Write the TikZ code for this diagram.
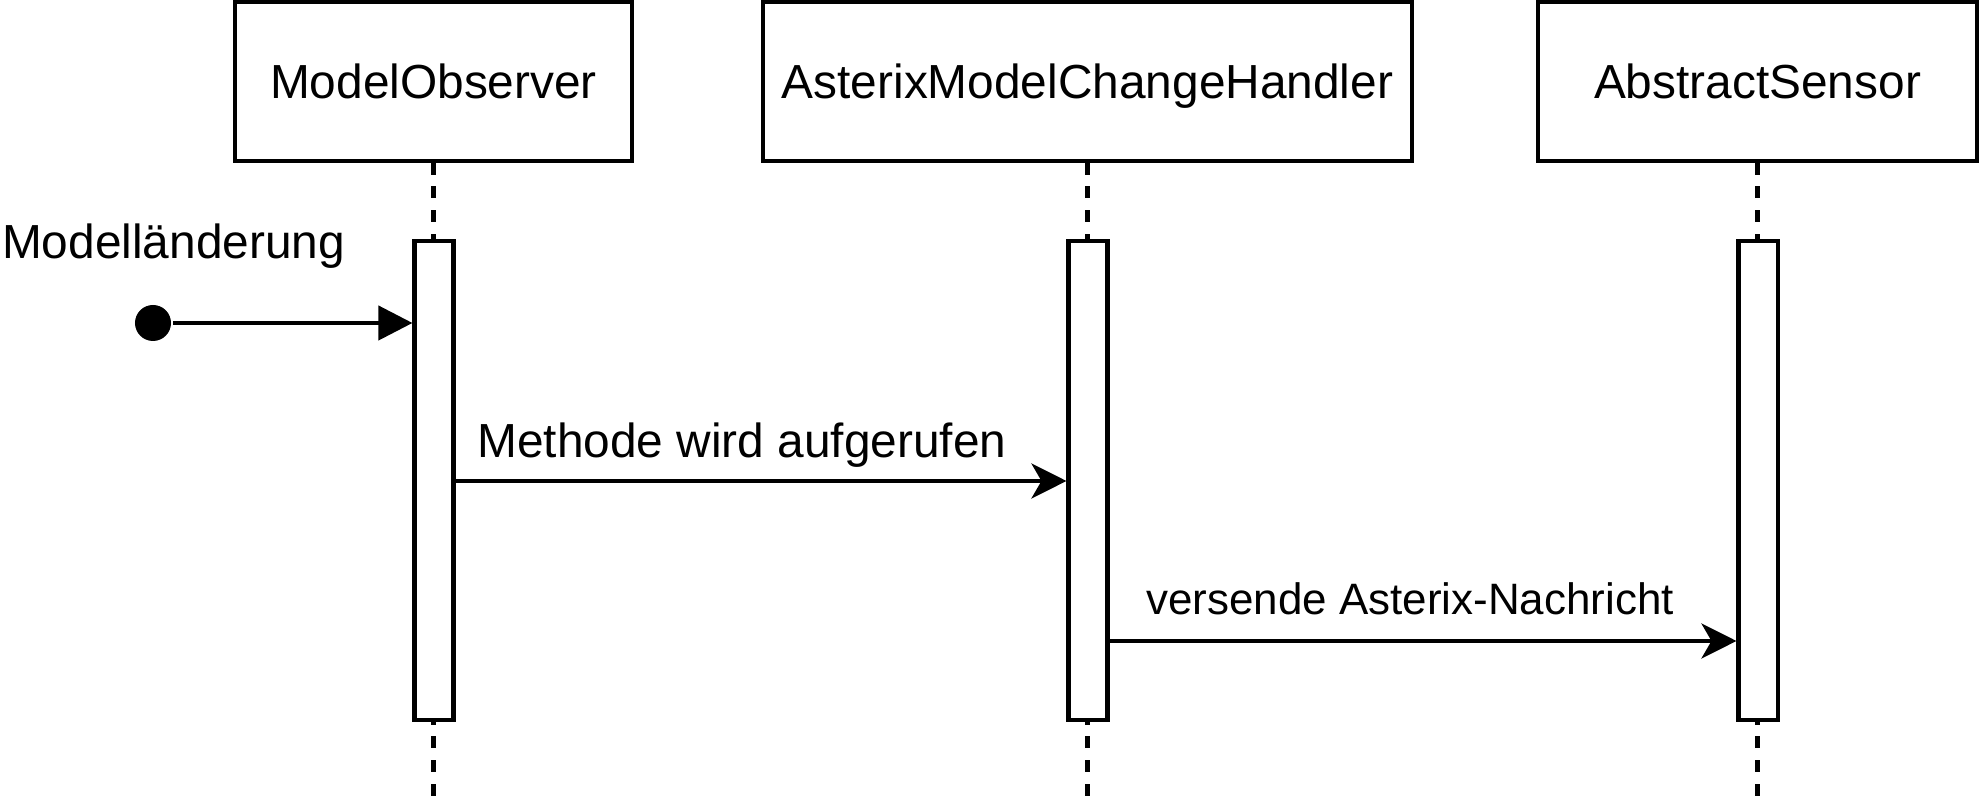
\documentclass[tikz,border=0pt]{standalone}
\usepackage{fontspec}
\setmainfont{Liberation Sans}
\usetikzlibrary{arrows.meta}

\begin{document}
\begin{tikzpicture}[x=0.01cm, y=-0.01cm, line width=1.15pt,
    head/.style={draw, minimum height=1.58cm, inner sep=0pt, text height=0.34cm, text depth=0cm, font=\fontsize{13.6}{16}\selectfont},
    bar/.style={draw, fill=white, minimum width=0.39cm, minimum height=4.78cm, inner sep=0pt},
    lifeline/.style={dash pattern=on 3.4pt off 3.4pt},
    msg/.style={-{Stealth[length=0.35cm, width=0.35cm, inset=0.1cm]}},
    lbl/.style={anchor=base, inner sep=0pt, font=\fontsize{13.6}{16}\selectfont}]
    \useasboundingbox (0,0) rectangle (1984,804);

    % Participants
    \node[head, minimum width=3.97cm] (observer) at (433.5,81.5) {ModelObserver};
    \node[head, minimum width=6.48cm] (handler) at (1087.5,81.5) {AsterixModelChangeHandler};
    \node[head, minimum width=4.38cm] (sensor) at (1757.5,81.5) {AbstractSensor};

    % Lifelines
    \coordinate (bottom) at (0,806);
    \foreach \p in {observer, handler, sensor}
        \draw[lifeline] (\p.south) -- (\p.south |- bottom);

    % Activations
    \node[bar] (act1) at (434,480.5) {};
    \node[bar] (act2) at (1088,480.5) {};
    \node[bar] (act3) at (1758,480.5) {};

    % Incoming trigger
    \node[circle, fill, minimum size=0.36cm, inner sep=0pt] (start) at (153,323) {};
    \node[lbl, anchor=base west] (trigger) at (0,259) {Modelländerung};
    \draw[-{Triangle[length=0.34cm, width=0.34cm]}] (start) -- (act1.west |- start);

    % Messages
    \coordinate (m1) at (0,481);
    \coordinate (m2) at (0,641);
    \draw[msg] (act1.east |- m1) -- node[lbl, midway, yshift=0.23cm, xshift=-0.19cm] (call) {Methode wird aufgerufen} (act2.west |- m1);
    \draw[msg] (act2.east |- m2) -- node[lbl, midway, yshift=0.26cm, xshift=-0.13cm, font=\fontsize{12.5}{15}\selectfont] (send) {versende Asterix-Nachricht} (act3.west |- m2);
\end{tikzpicture}
\end{document}
